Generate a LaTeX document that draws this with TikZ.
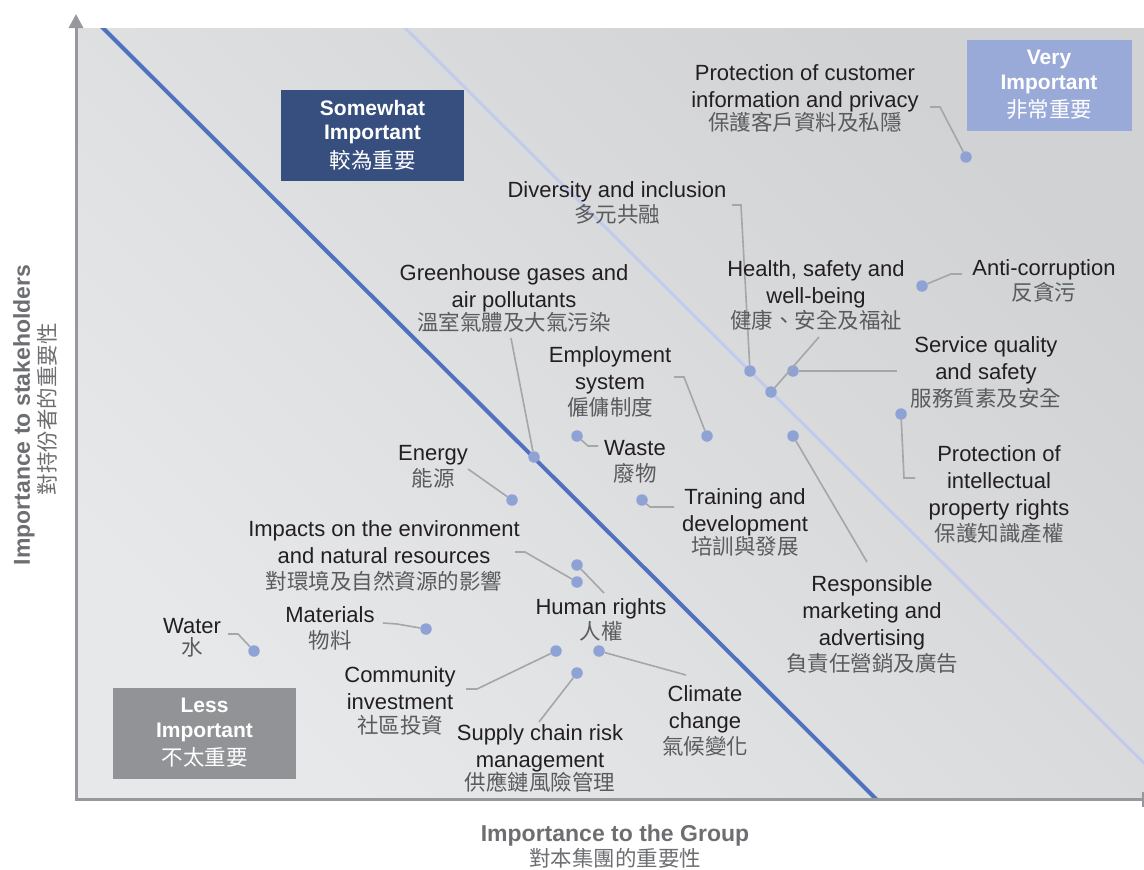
\documentclass[tikz,border=0pt]{standalone}
\usepackage{fontspec}
\setmainfont{Liberation Sans}
\newfontfamily\cjk{Noto Sans CJK TC}
\usetikzlibrary{arrows.meta}
\definecolor{bgA}{HTML}{E7E8EA}
\definecolor{bgB}{HTML}{D1D2D4}
\definecolor{axisgray}{HTML}{97989B}
\definecolor{blueline}{HTML}{4F71BE}
\definecolor{lightline}{HTML}{C3CBEC}
\definecolor{dotblue}{HTML}{8FA2D6}
\definecolor{leader}{HTML}{A5A6A9}
\definecolor{txt}{HTML}{231F20}
\definecolor{cjkgray}{HTML}{5A5B5D}
\definecolor{navy}{HTML}{364F7E}
\definecolor{lavender}{HTML}{9AAAD8}
\definecolor{boxgray}{HTML}{929396}
\definecolor{axistext}{HTML}{6D6E71}
\newcommand{\zh}[1]{{\cjk\fontsize{21.5}{27}\selectfont\color{cjkgray}#1}}
\newcommand{\zw}[1]{{\cjk\mdseries\fontsize{21.5}{25}\selectfont #1}}
\newcommand{\st}{\rule{0pt}{17pt}}
\newcommand{\nolskip}{\setlength{\lineskiplimit}{-50pt}}
\begin{document}
\begin{tikzpicture}[x=1pt,y=-1pt,
  lab/.style={anchor=north, inner sep=0pt, align=center, text=txt,
    font=\fontsize{22}{27}\selectfont\nolskip},
  dot/.style={circle, fill=dotblue, inner sep=0pt, minimum size=11.5pt},
  leadline/.style={draw=leader, line width=1.6pt},
  catbox/.style={inner sep=0pt, text=white, align=center, minimum height=91pt,
    font=\bfseries\fontsize{21}{24.5}\selectfont\nolskip},
  axislab/.style={inner sep=0pt, text=axistext, anchor=base},
]
\useasboundingbox (0,0) rectangle (1144,870);
% background
\shade[top color=bgB, bottom color=bgA, shading angle=-45] (76,28) rectangle (1144,800);
\begin{scope}
  \clip (76,28) rectangle (1144,800);
  \draw[lightline, line width=3pt] (390,13) -- (1159,778);
  \draw[blueline, line width=4pt] (87.5,12.6) -- (892.5,815.4);
\end{scope}
% axes
\draw[axisgray, line width=3pt, -{Triangle[length=14pt,width=14pt]}] (76,801) -- (76,14);
\draw[axisgray, line width=3pt] (74.5,799.5) -- (1144,799.5);
\draw[axisgray, line width=1.5pt] (1143.2,792) -- (1143.2,807);
% category boxes
\node[catbox, fill=navy, minimum width=183pt] (somewhat) at (372.5,135) {Somewhat\\Important\\[4pt]\zw{較為重要}};
\node[catbox, fill=lavender, minimum width=165pt] (very) at (1049,85) {Very\\Important\\[4pt]\zw{非常重要}};
\node[catbox, fill=boxgray, minimum width=183pt] (less) at (204.5,733) {Less\\Important\\[4pt]\zw{不太重要}};
% dots
\node[dot] (d-cust) at (966,157) {};
\node[dot] (d-anti) at (922,286) {};
\node[dot] (d-div) at (750,371) {};
\node[dot] (d-health) at (771,392) {};
\node[dot] (d-serv) at (793,371) {};
\node[dot] (d-ip) at (901,414) {};
\node[dot] (d-resp) at (793,436) {};
\node[dot] (d-emp) at (707,436) {};
\node[dot] (d-waste) at (577,436) {};
\node[dot] (d-ghg) at (534,457) {};
\node[dot] (d-energy) at (512,500) {};
\node[dot] (d-train) at (642,500) {};
\node[dot] (d-imp) at (577,582) {};
\node[dot] (d-human) at (577,565) {};
\node[dot] (d-mat) at (426,629) {};
\node[dot] (d-water) at (254,651) {};
\node[dot] (d-comm) at (556,651) {};
\node[dot] (d-clim) at (599,651) {};
\node[dot] (d-sup) at (577,673) {};
% leader ends
\coordinate (e-cust) at (930,107);
\coordinate (e-anti) at (962,274);
\coordinate (e-div) at (732,205);
\coordinate (e-health) at (819,337);
\coordinate (e-serv) at (897,371);
\coordinate (e-ip) at (915,478);
\coordinate (e-resp) at (867,562);
\coordinate (e-emp) at (674,377);
\coordinate (e-waste) at (598,446);
\coordinate (e-ghg) at (511,338);
\coordinate (e-energy) at (468,469);
\coordinate (e-train) at (674,507);
\coordinate (e-imp) at (515,552);
\coordinate (e-human) at (604,593);
\coordinate (e-mat) at (383,623);
\coordinate (e-water) at (228,634);
\coordinate (e-comm) at (466,689);
\coordinate (e-clim) at (686,675);
\coordinate (e-sup) at (539,722);
% leaders
\draw[leadline] (e-cust) -- ++(10,0) -- (d-cust);
\draw[leadline] (e-anti) -- ++(-11,0) -- (d-anti);
\draw[leadline] (e-div) -- ++(9,0) -- (d-div);
\draw[leadline] (e-health) -- (d-health);
\draw[leadline] (e-serv) -- (d-serv);
\draw[leadline] (e-ip) -- ++(-11,0) -- (d-ip);
\draw[leadline] (e-resp) -- (d-resp);
\draw[leadline] (e-emp) -- ++(10,0) -- (d-emp);
\draw[leadline] (e-waste) -- ++(-10,0) -- (d-waste);
\draw[leadline] (e-ghg) -- (d-ghg);
\draw[leadline] (e-energy) -- (d-energy);
\draw[leadline] (e-train) -- ++(-24,0) -- (d-train);
\draw[leadline] (e-imp) -- ++(10,0) -- (d-imp);
\draw[leadline] (e-human) -- (d-human);
\draw[leadline] (e-mat) -- ++(14,1) -- (d-mat);
\draw[leadline] (e-water) -- ++(10,0) -- (d-water);
\draw[leadline] (e-comm) -- ++(11,0) -- (d-comm);
\draw[leadline] (e-clim) -- (d-clim);
\draw[leadline] (e-sup) -- (d-sup);
% labels
\node[lab] (l-cust) at (805,63) {\st Protection of customer\\information and privacy\\[-4pt]\zh{保護客戶資料及私隱}};
\node[lab] (l-div) at (617,180) {\st Diversity and inclusion\\[-2pt]\zh{多元共融}};
\node[lab] (l-ghg) at (514,263) {\st Greenhouse gases and\\air pollutants\\[-4pt]\zh{溫室氣體及大氣污染}};
\node[lab] (l-health) at (816,259) {\st Health, safety and\\well-being\\[-2pt]\zh{健康、安全及福祉}};
\node[lab] (l-anti) at (1044,258) {\st Anti-corruption\\[-2pt]\zh{反貪污}};
\node[lab] (l-serv) at (986,335) {\st Service quality\\and safety\\[0pt]\zh{服務質素及安全}};
\node[lab] (l-emp) at (610,345) {\st Employment\\system\\[-1pt]\zh{僱傭制度}};
\node[lab] (l-energy) at (433,443) {\st Energy\\[-1pt]\zh{能源}};
\node[lab] (l-waste) at (635,438) {\st Waste\\[-1pt]\zh{廢物}};
\node[lab] (l-ip) at (999,444) {\st Protection of\\intellectual\\property rights\\[-1pt]\zh{保護知識產權}};
\node[lab] (l-train) at (745,487) {\st Training and\\development\\[-4pt]\zh{培訓與發展}};
\node[lab] (l-imp) at (384,519) {\st Impacts on the environment\\and natural resources\\[-1pt]\zh{對環境及自然資源的影響}};
\node[lab] (l-resp) at (872,574) {\st Responsible\\marketing and\\advertising\\[-1pt]\zh{負責任營銷及廣告}};
\node[lab] (l-human) at (601,597) {\st Human rights\\[-2pt]\zh{人權}};
\node[lab] (l-mat) at (330,605) {\st Materials\\[-1pt]\zh{物料}};
\node[lab] (l-water) at (192,616) {\st Water\\[-5pt]\zh{水}};
\node[lab] (l-comm) at (400,665) {\st Community\\investment\\[-3pt]\zh{社區投資}};
\node[lab] (l-sup) at (540,723) {\st Supply chain risk\\management\\[-4pt]\zh{供應鏈風險管理}};
\node[lab] (l-clim) at (705,684) {\st Climate\\change\\[-1pt]\zh{氣候變化}};
% axis titles
\node[axislab, font=\bfseries\fontsize{23}{27}\selectfont] (xt) at (615,841) {Importance to the Group};
\node[axislab, font=\cjk\fontsize{21.5}{27}\selectfont] (xtz) at (615,866) {對本集團的重要性};
\node[axislab, rotate=90, font=\bfseries\fontsize{23}{27}\selectfont] (yt) at (30,415) {Importance to stakeholders};
\node[axislab, rotate=90, font=\cjk\fontsize{21.5}{27}\selectfont] (ytz) at (55,409) {對持份者的重要性};
\end{tikzpicture}
\end{document}
